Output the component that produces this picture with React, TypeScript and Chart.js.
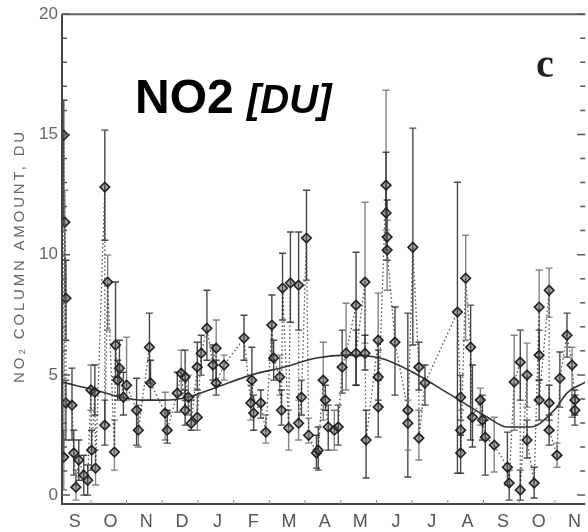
import React, { useEffect, useRef } from 'react';
import { Chart, registerables } from 'chart.js';

Chart.register(...registerables);

// Month letters (Sep .. Nov of the following year)
const monthLabels = ['S', 'O', 'N', 'D', 'J', 'F', 'M', 'A', 'M', 'J', 'J', 'A', 'S', 'O', 'N'];
const monthTicks = [0, 1, 2, 3, 4, 5, 6, 7, 8, 9, 10, 11, 12, 13, 14];
const yTicks = [0, 5, 10, 15, 20];

// Observations: position in months since start of September, NO2 column (DU), error range
const obsMonth = [
  -0.31, -0.28, -0.25, -0.25, -0.31, -0.08, -0.03, 0.03, 0.11, 0.25, 0.45, 0.56, 0.47, 0.58, 0.36,
  0.84, 0.92, 1.14, 0.84, 1.11, 1.25, 1.36, 1.45, 1.2,
  1.73, 1.78, 2.09, 2.12, 2.53, 2.59, 2.87, 2.98, 3.09,
  3.09, 3.18, 3.26, 3.43, 3.43, 3.54, 3.7, 3.96, 3.96, 3.87,
  4.18, 4.74, 4.96, 4.93, 5.01, 5.21, 5.35,
  5.52, 5.57, 5.74, 5.79, 5.82, 5.99, 6.04, 6.27, 6.27, 6.35, 6.49, 6.55, 6.77,
  6.82, 6.96, 7.02, 7.1, 7.27, 7.38, 7.49, 7.6, 7.88, 7.88, 8.13, 8.13, 8.16, 8.5, 8.5, 8.5,
  8.72, 8.72, 8.75, 8.75, 8.97, 9.33, 9.33, 9.47, 9.64, 9.64, 9.81,
  10.72, 10.95, 11.09, 10.81, 10.81, 10.81, 11.14, 11.36, 11.42, 11.5, 11.75,
  12.12, 12.17, 12.31, 12.48, 12.48, 12.67, 12.67, 12.87,
  13.01, 13.01, 13.01, 13.29, 13.29, 13.29, 13.51, 13.59, 13.79, 13.93, 14.01, 14.01,
];
const obsNO2 = [
  14.97, 11.35, 8.19, 3.83, 1.58, 3.74, 1.75, 0.33, 1.46, 0.83, 4.37, 4.28, 1.87, 1.12, 0.62,
  12.81, 8.86, 6.24, 2.91, 1.79, 5.28, 4.07, 4.57, 4.78,
  3.53, 2.7, 6.15, 4.66, 3.41, 2.7, 4.24, 5.07, 3.53,
  4.91, 4.07, 2.99, 5.32, 3.24, 5.9, 6.94, 6.11, 4.66, 5.41,
  5.41, 6.53, 4.78, 3.83, 3.41, 3.83, 2.62,
  7.07, 5.7, 4.91, 3.53, 8.61, 2.79, 8.82, 8.73, 2.99, 4.07, 10.69, 2.49, 1.75,
  1.87, 4.78, 3.95, 2.83, 2.7, 2.83, 5.32, 5.9, 7.9, 5.9, 8.86, 5.9, 2.29, 6.44, 4.91, 3.66,
  12.89, 11.73, 10.73, 10.19, 6.36, 3.53, 2.99, 10.31, 5.32, 2.37, 4.66,
  7.61, 9.02, 6.15, 4.07, 2.7, 1.75, 3.24, 3.95, 3.12, 2.41, 2.08,
  1.16, 0.5, 4.7, 5.53, 0.21, 4.99, 2.29, 0.5,
  7.82, 5.82, 3.95, 8.52, 3.83, 2.7, 1.66, 4.86, 6.65, 5.41, 3.95, 3.53,
];
const errHigh = [
  16.42, 12.68, 9.77, 4.78, 2.7, 5.28, 2.7, 1.04, 2.29, 1.66, 5.41, 5.41, 2.7, 1.87, 1.25,
  15.18, 9.98, 8.86, 3.95, 3.12, 6.44, 5.11, 6.57, 5.61,
  4.86, 3.74, 7.57, 5.61, 4.28, 3.53, 5.11, 6.03, 4.37,
  6.03, 4.99, 3.95, 6.36, 4.16, 6.65, 8.52, 7.28, 5.61, 6.24,
  5.82, 7.48, 6.15, 4.57, 4.16, 4.37, 3.33,
  8.32, 6.44, 5.82, 4.37, 10.06, 3.53, 10.94, 10.94, 3.95, 4.78, 12.68, 3.2, 2.49,
  2.83, 6.36, 4.57, 3.74, 3.53, 3.74, 6.86, 7.98, 10.1, 6.86, 12.18, 6.65, 3.53, 8.4, 6.03, 4.78,
  16.84, 14.26, 12.27, 11.43, 7.82, 7.57, 3.95, 15.26, 6.36, 3.53, 5.41,
  13.01, 10.81, 7.9, 4.99, 3.53, 2.49, 5.41, 4.45, 4.16, 3.12, 3.24,
  2.62, 1.04, 6.65, 6.86, 1.04, 6.32, 3.12, 1.16,
  9.36, 6.86, 4.78, 9.44, 4.57, 3.33, 2.16, 5.95, 7.57, 6.15, 4.37, 4.16,
];
const errLow = [
  11.23, 8.11, 6.44, 2.29, 0.21, 2.29, 0.83, -0.21, 0.62, 0, 3.53, 3.33, 1.04, 0.42, 0,
  10.6, 6.86, 4.91, 2.08, 1.04, 4.16, 3.33, 3.95, 3.95,
  2.08, 2.0, 4.66, 3.95, 2.29, 2.16, 3.45, 4.16, 2.91,
  3.95, 3.33, 2.7, 4.37, 2.7, 4.99, 5.61, 4.57, 4.16, 4.78,
  4.78, 5.61, 3.95, 3.12, 2.7, 3.2, 2.16,
  5.61, 4.78, 4.16, 2.91, 7.28, 1.87, 7.19, 6.86, 2.29, 3.33, 8.94, 2.16, 1.12,
  1.04, 3.12, 3.53, 1.87, 1.87, 2.08, 4.24, 4.37, 4.57, 4.57, 6.32, 5.2, 0.71, 4.78, 3.95, 2.41,
  11.02, 10.19, 9.77, 8.52, 4.16, 0.75, 1.87, 6.24, 4.37, 1.46, 3.74,
  0.91, 6.44, 2.29, 3.12, 1.87, 0.91, 2.0, 2.91, 2.29, 0.83, 0.96,
  0.42, -0.21, 2.7, 3.95, -0.21, 3.66, 1.54, -0.12,
  5.74, 4.78, 3.12, 7.4, 3.12, 2.08, 1.16, 3.66, 5.74, 3.24, 3.33, 2.91,
];

// Smooth seasonal fit
const fitMonth = [-0.36, 0.56, 1.31, 1.87, 2.51, 3.15, 3.98, 4.93, 5.85, 6.77, 7.6, 8.55, 9.47, 10.45, 11.56, 12.12, 12.76, 13.43, 13.79, 14.3];
const fitNO2 = [4.7, 4.37, 4.07, 3.95, 3.95, 4.07, 4.49, 4.99, 5.32, 5.7, 5.82, 5.7, 5.11, 4.24, 3.24, 2.83, 2.83, 3.53, 4.24, 4.7];

const FONT = '"Liberation Sans", Arial, sans-serif';

const decorPlugin = {
  id: 'decor',
  beforeDatasetsDraw(chart: any) {
    const { ctx, chartArea: a, scales } = chart;
    const x = scales.x;
    const y = scales.y;
    ctx.save();
    ctx.beginPath();
    ctx.rect(a.left, a.top, a.right - a.left, a.bottom - a.top);
    ctx.clip();
    ctx.lineWidth = 1.4;
    for (let i = 0; i < obsMonth.length; i++) {
      const px = x.getPixelForValue(obsMonth[i]);
      const top = y.getPixelForValue(errHigh[i]);
      const bot = y.getPixelForValue(errLow[i]);
      ctx.strokeStyle = i % 3 === 1 ? 'rgba(110,110,110,0.85)' : 'rgba(40,40,40,0.85)';
      ctx.beginPath();
      ctx.moveTo(px, top);
      ctx.lineTo(px, bot);
      ctx.moveTo(px - 3.5, top);
      ctx.lineTo(px + 3.5, top);
      ctx.moveTo(px - 3.5, bot);
      ctx.lineTo(px + 3.5, bot);
      ctx.stroke();
    }
    ctx.restore();
  },
  afterDraw(chart: any) {
    const { ctx, chartArea: a, scales } = chart;
    const x = scales.x;
    const y = scales.y;
    ctx.save();
    // frame
    ctx.strokeStyle = '#444';
    ctx.lineWidth = 2;
    ctx.beginPath();
    ctx.moveTo(a.left, a.top);
    ctx.lineTo(a.left, a.bottom);
    ctx.lineTo(a.right, a.bottom);
    ctx.stroke();
    ctx.strokeStyle = '#666';
    ctx.beginPath();
    ctx.moveTo(a.left, a.top);
    ctx.lineTo(a.right, a.top);
    ctx.stroke();
    // inward minor ticks on left and right
    ctx.lineWidth = 1.5;
    ctx.strokeStyle = '#555';
    for (let v = 0; v <= 20; v++) {
      const py = y.getPixelForValue(v);
      const len = v % 5 === 0 ? 8 : 5;
      ctx.beginPath();
      ctx.moveTo(a.left, py);
      ctx.lineTo(a.left + len, py);
      ctx.moveTo(a.right, py);
      ctx.lineTo(a.right - len, py);
      ctx.stroke();
    }
    // month boundary ticks
    ctx.strokeStyle = '#888';
    ctx.lineWidth = 1;
    for (const m of monthTicks) {
      const px = x.getPixelForValue(m + 0.45);
      if (px > a.right) continue;
      ctx.beginPath();
      ctx.moveTo(px, a.bottom);
      ctx.lineTo(px, a.bottom - 4);
      ctx.stroke();
    }
    // title
    ctx.fillStyle = '#000';
    ctx.textAlign = 'left';
    ctx.textBaseline = 'alphabetic';
    ctx.font = `bold 48px ${FONT}`;
    ctx.fillText('NO2', 135, 113);
    const w = ctx.measureText('NO2 ').width;
    ctx.font = `italic bold 40px ${FONT}`;
    ctx.fillText('[DU]', 135 + w, 113);
    // panel letter
    ctx.font = 'bold 40px "Liberation Serif", "Times New Roman", serif';
    ctx.fillStyle = '#222';
    ctx.fillText('c', 536, 77);
    // y axis title
    ctx.translate(20, 256);
    ctx.rotate(-Math.PI / 2);
    ctx.textAlign = 'center';
    ctx.textBaseline = 'middle';
    ctx.fillStyle = '#666';
    ctx.font = `15px ${FONT}`;
    try { (ctx as any).letterSpacing = '2.8px'; } catch (e) {}
    ctx.fillText('NO\u2082 COLUMN AMOUNT, DU', 0, 0);
    ctx.restore();
  },
};

export default function App() {
  const ref = useRef<HTMLCanvasElement | null>(null);
  useEffect(() => {
    if (!ref.current) return;
    const points = obsMonth.map((m, i) => ({ x: m, y: obsNO2[i] }));
    const sorted = [...points].sort((p, q) => p.x - q.x);
    const fit = fitMonth.map((m, i) => ({ x: m, y: fitNO2[i] }));
    const chart = new Chart(ref.current, {
      type: 'scatter',
      data: {
        datasets: [
          {
            type: 'scatter',
            label: 'NO2',
            data: points,
            pointStyle: 'rectRot',
            pointRadius: 4.8,
            pointBorderWidth: 1.6,
            pointBorderColor: '#222',
            pointBackgroundColor: 'rgba(80,80,80,0.5)',
            order: 0,
          } as any,
          {
            type: 'line',
            label: 'fit',
            data: fit,
            borderColor: '#333',
            borderWidth: 1.6,
            pointRadius: 0,
            cubicInterpolationMode: 'monotone',
            fill: false,
            order: 1,
          } as any,
          {
            type: 'line',
            label: 'sequence',
            data: sorted,
            borderColor: 'rgba(50,50,50,0.85)',
            borderWidth: 1.3,
            borderDash: [1.5, 2.5],
            pointRadius: 0,
            tension: 0,
            fill: false,
            order: 2,
          } as any,
        ],
      },
      options: {
        responsive: true,
        maintainAspectRatio: false,
        animation: false,
        layout: { padding: { top: 14, right: 0, left: 0, bottom: 0 }, autoPadding: false } as any,
        plugins: { legend: { display: false }, tooltip: { enabled: false }, title: { display: false } },
        scales: {
          x: {
            type: 'linear',
            min: -0.36,
            max: 14.3,
            grid: { display: false, drawTicks: false },
            border: { display: false },
            afterBuildTicks: (axis: any) => {
              axis.ticks = monthTicks.map((v) => ({ value: v }));
            },
            afterFit: (s: any) => {
              s.height = 28;
            },
            ticks: {
              autoSkip: false,
              maxRotation: 0,
              padding: 7,
              color: '#555',
              font: { family: FONT, size: 18 },
              callback: (v: any) => monthLabels[Math.round(Number(v))] ?? '',
            },
          },
          y: {
            type: 'linear',
            min: -0.37,
            max: 20,
            grid: { display: false, drawTicks: false },
            border: { display: false },
            afterBuildTicks: (axis: any) => {
              axis.ticks = yTicks.map((v) => ({ value: v }));
            },
            afterFit: (s: any) => {
              s.width = 62;
            },
            ticks: {
              padding: 4,
              color: '#666',
              font: { family: FONT, size: 17 },
            },
          },
        },
      },
      plugins: [decorPlugin],
    });
    return () => chart.destroy();
  }, []);
  return (
    <div style={{ position: 'fixed', left: 0, top: 0, width: 588, height: 532, background: '#fff' }}>
      <canvas ref={ref} />
    </div>
  );
}
